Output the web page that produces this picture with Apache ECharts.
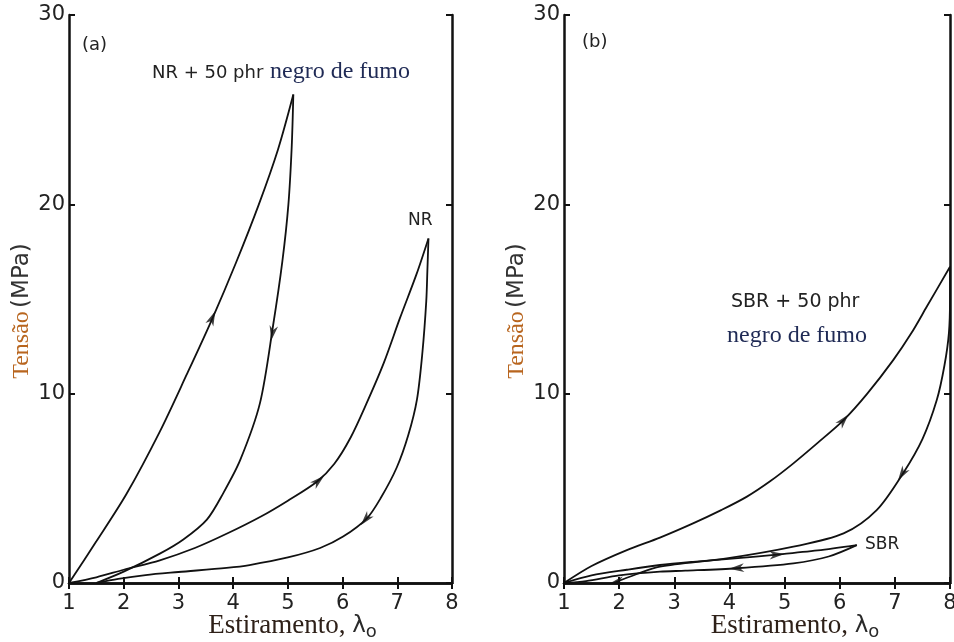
<!DOCTYPE html>
<html>
<head>
<meta charset="utf-8">
<script src="https://cdn.jsdelivr.net/npm/echarts@6/dist/echarts.min.js"></script>
<style>
html, body { margin: 0; padding: 0; background: #fff; }
#chart { width: 954px; height: 642px; }
</style>
</head>
<body>
<div id="chart"></div>
<script>
// eixos
var xTicks = [1, 2, 3, 4, 5, 6, 7, 8];
var yTicks = [0, 10, 20, 30];

// (a) NR + 50 phr negro de fumo
var nr50Load = [[1, 0], [1.5, 2.2], [2.05, 4.7], [2.66, 8.0], [3.15, 11.0], [3.61, 13.9], [4.05, 16.9], [4.47, 20.0], [4.82, 22.9], [5.1, 25.8]];
var nr50Unload = [[5.1, 25.8], [5.07, 23], [5.01, 20], [4.9, 17], [4.73, 13.6], [4.49, 9.5], [4.13, 6.5], [3.82, 4.75], [3.52, 3.35], [3.09, 2.3], [2.66, 1.55], [2.0, 0.6], [1.5, 0]];
// (a) NR
var nrLoad = [[1, 0], [1.5, 0.3], [2.0, 0.7], [2.66, 1.2], [3.3, 1.85], [3.88, 2.6], [4.5, 3.5], [5.0, 4.35], [5.53, 5.35], [5.85, 6.3], [6.15, 7.7], [6.44, 9.5], [6.75, 11.6], [7.05, 14.0], [7.35, 16.3], [7.57, 18.2]];
var nrUnload = [[7.57, 18.2], [7.55, 16.5], [7.53, 14.9], [7.46, 12.2], [7.36, 9.7], [7.2, 7.8], [6.99, 6.1], [6.7, 4.5], [6.44, 3.4], [6.01, 2.45], [5.59, 1.85], [5.0, 1.35], [4.3, 0.95], [3.88, 0.8], [3.0, 0.58], [2.4, 0.42], [1.9, 0.22], [1.5, 0]];

// (b) SBR + 50 phr negro de fumo
var sbr50Load = [[1, 0], [1.5, 0.9], [2.14, 1.74], [2.74, 2.4], [3.34, 3.15], [3.85, 3.85], [4.31, 4.55], [4.75, 5.4], [5.16, 6.32], [5.6, 7.4], [6.07, 8.6], [6.5, 10.0], [6.97, 11.77], [7.3, 13.2], [7.58, 14.6], [8.0, 16.7]];
var sbr50Unload = [[8.0, 16.7], [8.0, 15], [7.98, 13.2], [7.9, 11.5], [7.76, 9.66], [7.5, 7.6], [7.15, 5.8], [6.67, 3.85], [6.07, 2.62], [5.16, 1.92], [3.95, 1.3], [2.74, 0.86], [2.3, 0.45], [1.9, 0]];
// (b) SBR
var sbrLoad = [[1, 0], [1.5, 0.4], [2.14, 0.7], [2.74, 0.95], [3.34, 1.12], [4.1, 1.3], [4.86, 1.5], [5.6, 1.72], [6.31, 2.0]];
var sbrUnload = [[6.31, 2.0], [5.8, 1.4], [5.16, 1.04], [4.13, 0.78], [3.2, 0.65], [2.74, 0.6], [2.0, 0.4], [1.4, 0.1], [1, 0]];

// setas: [de, para] sobre a curva
var arrowsA = [
  [[3.5, 13.2], [3.62, 14.0]],
  [[4.78, 14.2], [4.72, 13.2]],
  [[5.4, 5.0], [5.56, 5.4]],
  [[6.55, 3.8], [6.42, 3.35]]
];
var arrowsB = [
  [[5.95, 8.2], [6.07, 8.6]],
  [[7.25, 6.3], [7.13, 5.75]],
  [[4.7, 1.46], [4.86, 1.5]],
  [[4.3, 0.82], [4.13, 0.78]],
  [[2.1, 0.15], [1.95, 0.05]]
];

var chart = echarts.init(document.getElementById('chart'));

var tickFont = { fontFamily: 'DejaVu Sans', fontSize: 21, color: '#222' };
var frame = { show: true, lineStyle: { color: '#111', width: 2.5 } };
var tick = { show: true, inside: true, length: 6, lineStyle: { color: '#111', width: 2 } };

function xAx(grid, pos, padLeft) {
  var a = {
    type: 'value', gridIndex: grid, position: pos,
    min: xTicks[0], max: xTicks[xTicks.length - 1], interval: 1,
    axisLine: frame, axisTick: tick, splitLine: { show: false },
    axisLabel: pos === 'bottom' ? Object.assign({ margin: 10 }, tickFont) : { show: false }
  };
  if (pos === 'bottom') {
    a.name = '{a|Estiramento,}  {b|λ}{c|o}';
    a.nameLocation = 'middle';
    a.nameGap = 28;
    a.nameMoveOverlap = false;
    a.nameTextStyle = {
      padding: [0, 0, 0, padLeft],
      rich: {
        a: { fontFamily: 'Liberation Serif', fontSize: 27, color: '#2e2018' },
        b: { fontFamily: 'DejaVu Sans', fontSize: 23, color: '#2a2a2a' },
        c: { fontFamily: 'DejaVu Sans', fontSize: 18, color: '#2a2a2a', padding: [12, 0, 0, 0] }
      }
    };
  }
  return a;
}

function yAx(grid, pos) {
  var a = {
    type: 'value', gridIndex: grid, position: pos,
    min: yTicks[0], max: yTicks[yTicks.length - 1], interval: 10,
    axisLine: frame, axisTick: tick, splitLine: { show: false },
    axisLabel: pos === 'left' ? Object.assign({ margin: 4 }, tickFont) : { show: false }
  };
  if (pos === 'left') {
    a.name = '{a|Tensão} {b|(MPa)}';
    a.nameLocation = 'middle';
    a.nameRotate = 90;
    a.nameGap = 35;
    a.nameTextStyle = {
      padding: [0, 24, 0, 0],
      rich: {
        a: { fontFamily: 'Liberation Serif', fontSize: 24, color: '#b8651e' },
        b: { fontFamily: 'DejaVu Sans', fontSize: 23, color: '#333' }
      }
    };
  }
  return a;
}

function curve(data, grid) {
  return {
    type: 'line', data: data, xAxisIndex: grid * 2, yAxisIndex: grid * 2,
    smooth: 0.3, showSymbol: false, silent: true,
    lineStyle: { color: '#111', width: 1.8 }
  };
}

chart.setOption({
  animation: false,
  backgroundColor: '#fff',
  grid: [
    { left: 69, top: 15, width: 383, height: 568, outerBoundsMode: 'none' },
    { left: 564, top: 15, width: 386, height: 568, outerBoundsMode: 'none' }
  ],
  xAxis: [xAx(0, 'bottom', 64), xAx(0, 'top'), xAx(1, 'bottom', 76), xAx(1, 'top')],
  yAxis: [yAx(0, 'left'), yAx(0, 'right'), yAx(1, 'left'), yAx(1, 'right')],
  series: [
    curve(nr50Load, 0), curve(nr50Unload, 0), curve(nrLoad, 0), curve(nrUnload, 0),
    curve(sbr50Load, 1), curve(sbr50Unload, 1), curve(sbrLoad, 1), curve(sbrUnload, 1)
  ],
  graphic: [
    { type: 'text', left: 82, top: 36, style: { text: '(a)', font: '18px "DejaVu Sans"', fill: '#222' } },
    { type: 'text', left: 152, top: 64, style: { text: 'NR + 50 phr', font: '18px "DejaVu Sans"', fill: '#222' } },
    { type: 'text', left: 270, top: 60, style: { text: 'negro de fumo', font: '24px "Liberation Serif"', fill: '#1f2a55' } },
    { type: 'text', left: 408, top: 212, style: { text: 'NR', font: '17px "DejaVu Sans"', fill: '#222' } },
    { type: 'text', left: 582, top: 33, style: { text: '(b)', font: '18px "DejaVu Sans"', fill: '#222' } },
    { type: 'text', left: 731, top: 293, style: { text: 'SBR + 50 phr', font: '19px "DejaVu Sans"', fill: '#222' } },
    { type: 'text', left: 727, top: 324, style: { text: 'negro de fumo', font: '24px "Liberation Serif"', fill: '#1f2a55' } },
    { type: 'text', left: 865, top: 536, style: { text: 'SBR', font: '17px "DejaVu Sans"', fill: '#222' } }
  ]
});

function arrowSeries(list, grid, ref) {
  var data = list.map(function (a) {
    var p0 = chart.convertToPixel({ seriesIndex: ref }, a[0]);
    var p1 = chart.convertToPixel({ seriesIndex: ref }, a[1]);
    var ang = Math.atan2(-(p1[1] - p0[1]), p1[0] - p0[0]) * 180 / Math.PI - 90;
    return { value: a[1], symbolRotate: ang };
  });
  return {
    type: 'scatter', data: data, xAxisIndex: grid * 2, yAxisIndex: grid * 2,
    symbol: 'path://M5,0 L10,14 L5,10 L0,14 Z', symbolSize: [12, 15], symbolKeepAspect: true,
    itemStyle: { color: '#111' }, silent: true, z: 3
  };
}

var opt = chart.getOption();
var series = opt.series.concat([arrowSeries(arrowsA, 0, 0), arrowSeries(arrowsB, 1, 4)]);
chart.setOption({ series: series });
</script>
</body>
</html>
